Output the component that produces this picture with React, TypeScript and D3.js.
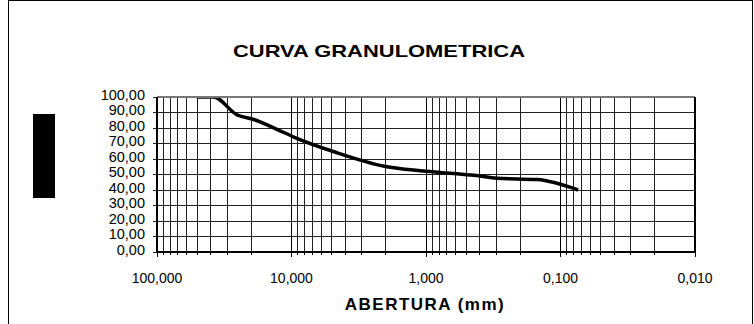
import React from 'react';
import * as d3 from 'd3';

// aberturas das peneiras (mm) e % passante
const aberturas = [50.8, 38.1, 25.4, 19.05, 12.7, 9.52, 4.76, 2.0, 1.19, 0.59, 0.42, 0.297, 0.149, 0.074];
const passante = [100, 100, 88.5, 85.5, 79, 74, 64.5, 55.2, 52.7, 50.5, 49.3, 47.6, 46.7, 40.0];

const xTicks = [100, 10, 1, 0.1, 0.01];
const xTickLabels = ['100,000', '10,000', '1,000', '0,100', '0,010'];
const yTicks = [0, 10, 20, 30, 40, 50, 60, 70, 80, 90, 100];

const W = 754,
	H = 324,
	left = 157,
	right = 695,
	top = 97,
	bottom = 252;

const font = 'Arial, "Liberation Sans", sans-serif';

const App = () => {
	const x = d3.scaleLog().domain([100, 0.01]).range([left, right]);
	const y = d3.scaleLinear().domain([0, 100]).range([bottom, top]);

	// linhas de grade menores (2..9 x década)
	const minor: number[] = [];
	[10, 1, 0.1, 0.01].forEach((dec) => {
		for (let k = 2; k <= 9; k++) minor.push(dec * k);
	});

	const pts = aberturas.map((a, i) => [x(a), y(passante[i])] as [number, number]);
	const line = d3.line().curve(d3.curveMonotoneX);
	const fmtY = (v: number) => v.toFixed(2).replace('.', ',');

	return (
		<svg width={W} height={H} style={{ position: 'absolute', left: 0, top: 0 }}>
			<defs>
				<clipPath id="plot">
					<rect x={left} y={top} width={right - left} height={bottom - top} />
				</clipPath>
			</defs>
			<rect x={0} y={0} width={W} height={H} fill="#fff" />
			<rect x={8.5} y={0.5} width={744} height={H + 10} fill="none" stroke="#000" strokeWidth={1} />
			<rect x={33} y={114} width={22} height={84} fill="#000" />

			<text x={379} y={57} textAnchor="middle" fontFamily={font} fontWeight="bold" fontSize={17} textLength={292} lengthAdjust="spacingAndGlyphs">
				CURVA GRANULOMETRICA
			</text>

			{/* grade */}
			<g shapeRendering="crispEdges">
				{yTicks.map((t) => (
					<line key={'h' + t} x1={left - 4} x2={right} y1={y(t)} y2={y(t)} stroke="#222" strokeWidth={1} />
				))}
				{minor.map((m) => (
					<g key={'v' + m}>
						<line x1={x(m)} x2={x(m)} y1={top} y2={bottom} stroke="#222" strokeWidth={1} />
						<line x1={x(m)} x2={x(m)} y1={bottom} y2={bottom + 3} stroke="#000" strokeWidth={1} />
					</g>
				))}
				{xTicks.map((t) => (
					<line key={'x' + t} x1={x(t)} x2={x(t)} y1={top} y2={bottom + 5} stroke="#000" strokeWidth={1} />
				))}
			</g>

			<path d={line(pts) || ''} fill="none" stroke="#000" strokeWidth={3.5} strokeLinejoin="round" clipPath="url(#plot)" />

			<g shapeRendering="crispEdges">
				<line x1={left} x2={right} y1={top} y2={top} stroke="#777" strokeWidth={2} />
				<line x1={right} x2={right} y1={top} y2={bottom} stroke="#000" strokeWidth={2} />
				<line x1={left} x2={right + 1} y1={bottom} y2={bottom} stroke="#000" strokeWidth={2} />
				<line x1={left} x2={left} y1={top} y2={bottom} stroke="#000" strokeWidth={1.5} />
			</g>

			{/* rótulos */}
			{yTicks.map((t) => (
				<text key={'yl' + t} x={145} y={y(t) - 1} textAnchor="end" dominantBaseline="middle" fontFamily={font} fontSize={14.5}>
					{fmtY(t)}
				</text>
			))}
			{xTicks.map((t, i) => (
				<text key={'xl' + t} x={x(t)} y={283} textAnchor="middle" fontFamily={font} fontSize={14}>
					{xTickLabels[i]}
				</text>
			))}

			<text x={425} y={310} textAnchor="middle" fontFamily={font} fontWeight="bold" fontSize={17} letterSpacing={1.5}>
				ABERTURA (mm)
			</text>
		</svg>
	);
};

export default App;
